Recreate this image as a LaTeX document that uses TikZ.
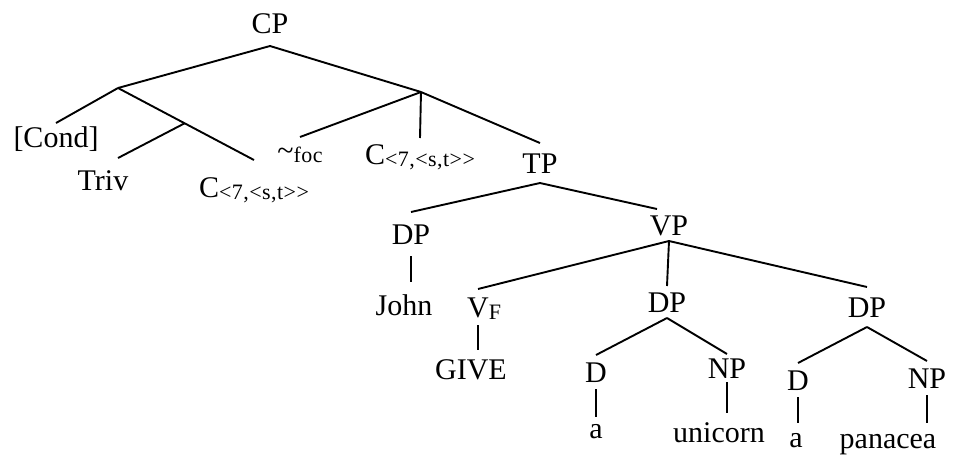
\documentclass[tikz,border=0pt]{standalone}
\usepackage{fontspec}
\setmainfont{Liberation Serif}
\newfontfamily\subfont[LetterSpace=2]{Liberation Serif}
\usepackage{tikz}
\usetikzlibrary{calc}

\newcommand\lsub[1]{\raisebox{-2pt}{\fontsize{22pt}{22pt}\subfont #1}}
\newcommand\ctype{C\lsub{<7,<s,t\textgreater\textgreater}}

\begin{document}
\begin{tikzpicture}[x=1pt,y=-1pt,line width=1.9pt,
    every node/.style={font=\fontsize{30pt}{36pt}\selectfont},
    lab/.style={anchor=base,inner sep=0pt,outer xsep=0pt,outer ysep=#1,text height=20pt,text depth=0pt},
    lab/.default=6pt]
    \useasboundingbox (0,0) rectangle (954,456);

    % upper part
    \node[lab=13pt] (cp) at (270,33) {CP};
    \coordinate (lb) at (118,88);
    \coordinate (rb) at (421,92);
    \node[lab=4pt] (cond) at (56,147) {[Cond]};
    \node[lab=12pt] (triv) at (103,190) {Triv};
    \node[lab=17pt] (cl) at (254,197) {\ctype};
    \node[lab=3pt] (foc) at (300,160) {\textasciitilde\lsub{foc}};
    \node[lab=6pt] (cm) at (420,164) {\ctype};
    \node[lab=10pt] (tp) at (540,173) {TP};

    \draw (cp.south) -- (lb);
    \draw (cp.south) -- (rb);
    \draw (lb) -- (cond.north);
    \draw (lb) -- (cl.north) coordinate[pos=0.49] (lbb);
    \draw (lbb) -- ([xshift=15pt]triv.north);
    \draw (rb) -- (foc.north);
    \draw (rb) -- (cm.north);
    \draw (rb) -- (tp.north);

    % TP
    \node[lab=12pt] (dpj) at (411,244) {DP};
    \node[lab=13pt] (john) at (404,315) {John};
    \node[lab=6pt] (vp) at (669,235) {VP};
    \node[lab=8pt] (vf) at (478,317) {V\rlap{\lsub{F}}};
    \node[lab=9pt] (give) at (471,379) {GIVE};

    \draw (tp.south) -- (dpj.north);
    \draw (tp.south) -- ([xshift=-12pt]vp.north);
    \draw (dpj.south) -- (dpj.south |- john.north);
    \draw (vf.south) -- (vf.south |- give.north);

    % VP
    \node[lab=6pt] (dpu) at (667,312) {DP};
    \node[lab=7pt] (du) at (596,382) {D};
    \node[lab=1pt] (au) at (596,438) {a};
    \node[lab=4pt] (npu) at (727,378) {NP};
    \node[lab=9pt] (unicorn) at (719,442) {unicorn};
    \node[lab=10pt] (dpp) at (867,317) {DP};
    \node[lab=7pt] (dp) at (798,390) {D};
    \node[lab=4pt] (ap) at (796,447) {a};
    \node[lab=7pt] (npp) at (927,388) {NP};
    \node[lab=5pt] (panacea) at (888,448) {panacea};

    \draw (vp.south) -- (vf.north);
    \draw (vp.south) -- (dpu.north);
    \draw (vp.south) -- (dpp.north);
    \draw (dpu.south) -- (du.north);
    \draw (dpu.south) -- (npu.north);
    \draw (du.south) -- (du.south |- au.north);
    \draw (npu.south) -- (npu.south |- unicorn.north);
    \draw (dpp.south) -- (dp.north);
    \draw (dpp.south) -- (npp.north);
    \draw (dp.south) -- (dp.south |- ap.north);
    \draw (npp.south) -- (npp.south |- panacea.north);
\end{tikzpicture}
\end{document}
